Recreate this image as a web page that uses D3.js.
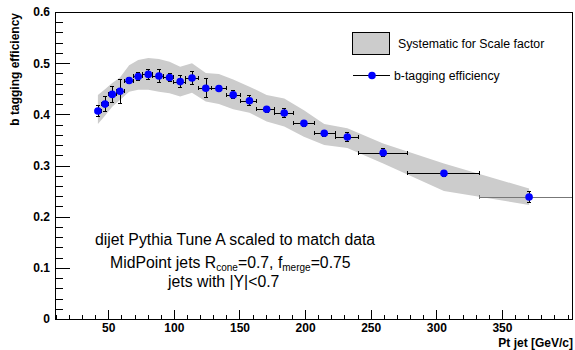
<!DOCTYPE html>
<html>
<head>
<meta charset="utf-8">
<style>
  body { margin: 0; background: #fff; }
  svg { display: block; font-family: "Liberation Sans", Arial, sans-serif; }
  .axis .domain { display: none; }
  .axis line { stroke: #000; shape-rendering: crispEdges; }
  .axis text { font-weight: bold; font-size: 12px; fill: #000; font-family: "Liberation Sans", Arial, sans-serif; }
</style>
</head>
<body>
<svg width="575" height="350"></svg>
<script src="https://cdn.jsdelivr.net/npm/d3@7"></script>
<script>
// jet pt bins (GeV/c): center and bin edges
var ptCenter = [42.1, 47.5, 53.0, 58.9, 65.9, 72.8, 80.5, 88.6, 96.7, 104.8, 113.8, 124.3,
                134.3, 145.2, 157.6, 170.7, 184.1, 199.1, 214.6, 232.2, 259.5, 305.8, 370.7];
var ptLow    = [40, 45, 50, 56, 62, 69, 76, 84, 92, 100, 109, 119,
                129, 140, 151, 163, 177, 191, 207, 223, 241, 278, 333];
var ptHigh   = [45, 50, 56, 62, 69, 76, 84, 92, 100, 109, 119, 129,
                140, 151, 163, 177, 191, 207, 223, 241, 278, 333, 410];

// b-tagging efficiency and stat error
var effVal = [0.4065, 0.420, 0.439, 0.445, 0.466, 0.474, 0.478, 0.475, 0.472, 0.464, 0.471, 0.451,
              0.4505, 0.438, 0.4266, 0.410, 0.4026, 0.3824, 0.363, 0.3557, 0.325, 0.2847, 0.2384];
var effErr = [0.010, 0.015, 0.016, 0.023, 0.006, 0.008, 0.010, 0.012, 0.008, 0.011, 0.012, 0.019,
              0.006, 0.008, 0.010, 0.006, 0.008, 0.006, 0.006, 0.008, 0.008, 0.006, 0.010];

// systematic band (scale factor)
var sysUp  = [0.438, 0.449, 0.461, 0.472, 0.496, 0.506, 0.510, 0.508, 0.503, 0.493, 0.500, 0.481,
              0.479, 0.468, 0.454, 0.438, 0.431, 0.408, 0.381, 0.373, 0.343, 0.304, 0.255];
var sysLow = [0.381, 0.397, 0.415, 0.428, 0.444, 0.448, 0.448, 0.444, 0.441, 0.435, 0.442, 0.425,
              0.420, 0.410, 0.403, 0.386, 0.376, 0.356, 0.340, 0.334, 0.304, 0.250, 0.223];

var xTickValues = [50, 100, 150, 200, 250, 300, 350];
var yTickValues = [0, 0.1, 0.2, 0.3, 0.4, 0.5, 0.6];

var svg = d3.select("svg"),
    frame = {left: 55, right: 572, top: 12, bottom: 319};

var x = d3.scaleLinear().domain([9.4, 403.4]).range([frame.left, frame.right]);
var y = d3.scaleLinear().domain([0, 0.6]).range([frame.bottom, frame.top]);

var points = ptCenter.map(function(p, i) {
  return {pt: p, lo: ptLow[i], hi: ptHigh[i], eff: effVal[i], err: effErr[i], up: sysUp[i], dn: sysLow[i], last: i == ptCenter.length - 1};
});

svg.append("defs").append("clipPath").attr("id", "clip")
  .append("rect")
    .attr("x", frame.left).attr("y", frame.top)
    .attr("width", frame.right - frame.left).attr("height", frame.bottom - frame.top);

var plot = svg.append("g").attr("clip-path", "url(#clip)");

// systematic band
var band = d3.area()
    .x(function(d) { return x(d.pt); })
    .y0(function(d) { return y(d.dn); })
    .y1(function(d) { return y(d.up); });

plot.append("path")
    .datum(points)
    .attr("d", band)
    .attr("fill", "#cccccc");

// error bars
var bars = plot.append("g")
    .attr("stroke-width", 1)
    .attr("shape-rendering", "crispEdges")
  .selectAll("g")
  .data(points)
  .enter().append("g")
    .attr("stroke", function(d) { return d.last ? "#777" : "#000"; });

bars.append("line")
    .attr("x1", function(d) { return x(d.lo); })
    .attr("x2", function(d) { return x(d.hi); })
    .attr("y1", function(d) { return Math.round(y(d.eff)) + 0.5; })
    .attr("y2", function(d) { return Math.round(y(d.eff)) + 0.5; });
bars.append("line")
    .attr("x1", function(d) { return x(d.lo); })
    .attr("x2", function(d) { return x(d.lo); })
    .attr("y1", function(d) { return y(d.eff) - 2; })
    .attr("y2", function(d) { return y(d.eff) + 2; });
bars.append("line")
    .attr("x1", function(d) { return x(d.hi); })
    .attr("x2", function(d) { return x(d.hi); })
    .attr("y1", function(d) { return y(d.eff) - 2; })
    .attr("y2", function(d) { return y(d.eff) + 2; });

bars.append("line")
    .attr("x1", function(d) { return Math.round(x(d.pt)) + 0.5; })
    .attr("x2", function(d) { return Math.round(x(d.pt)) + 0.5; })
    .attr("y1", function(d) { return y(d.eff - d.err); })
    .attr("y2", function(d) { return y(d.eff + d.err); })
    .attr("stroke", "#000");
bars.append("line")
    .attr("x1", function(d) { return x(d.pt) - 2; })
    .attr("x2", function(d) { return x(d.pt) + 2; })
    .attr("y1", function(d) { return y(d.eff - d.err); })
    .attr("y2", function(d) { return y(d.eff - d.err); })
    .attr("stroke", "#000");
bars.append("line")
    .attr("x1", function(d) { return x(d.pt) - 2; })
    .attr("x2", function(d) { return x(d.pt) + 2; })
    .attr("y1", function(d) { return y(d.eff + d.err); })
    .attr("y2", function(d) { return y(d.eff + d.err); })
    .attr("stroke", "#000");

// markers
plot.append("g")
  .selectAll("circle")
  .data(points)
  .enter().append("circle")
    .attr("cx", function(d) { return x(d.pt); })
    .attr("cy", function(d) { return y(d.eff); })
    .attr("r", 3.8)
    .attr("fill", "#0000ff");

// axes, ticks pointing inside the frame
var fmtY = function(d) { return d === 0 ? "0" : d3.format(".1f")(d); };

svg.append("g")
    .attr("class", "axis")
    .attr("transform", "translate(" + frame.left + ",0)")
    .call(d3.axisLeft(y).tickValues(d3.range(0, 0.601, 0.02)).tickSize(-8).tickFormat(""));
svg.append("g")
    .attr("class", "axis")
    .attr("transform", "translate(" + frame.left + ",0)")
    .call(d3.axisLeft(y).tickValues(yTickValues).tickSize(-15).tickPadding(5).tickFormat(fmtY));

svg.append("g")
    .attr("class", "axis")
    .attr("transform", "translate(0," + frame.bottom + ")")
    .call(d3.axisBottom(x).tickValues(d3.range(10, 401, 10)).tickSize(-4.5).tickFormat(""));
svg.append("g")
    .attr("class", "axis")
    .attr("transform", "translate(0," + frame.bottom + ")")
    .call(d3.axisBottom(x).tickValues(xTickValues).tickSize(-9).tickPadding(4));

// frame
svg.append("rect")
    .attr("x", frame.left + 0.5).attr("y", frame.top + 0.5)
    .attr("width", frame.right - frame.left).attr("height", frame.bottom - frame.top)
    .attr("fill", "none")
    .attr("stroke", "#000")
    .attr("shape-rendering", "crispEdges");

// axis titles
svg.append("text")
    .attr("transform", "translate(19," + (frame.top + 1) + ") rotate(-90)")
    .attr("text-anchor", "end")
    .attr("font-weight", "bold")
    .attr("font-size", 12)
    .text("b tagging efficiency");

svg.append("text")
    .attr("x", 573)
    .attr("y", 347)
    .attr("text-anchor", "end")
    .attr("font-weight", "bold")
    .attr("font-size", 12)
    .text("Pt jet [GeV/c]");

// legend
var legend = svg.append("g").attr("font-size", 12.3);
legend.append("rect")
    .attr("x", 352.5).attr("y", 32.5).attr("width", 37).attr("height", 22)
    .attr("fill", "#cccccc").attr("stroke", "#000")
    .attr("shape-rendering", "crispEdges");
legend.append("text")
    .attr("x", 398).attr("y", 48)
    .text("Systematic for Scale factor");
legend.append("line")
    .attr("x1", 353).attr("x2", 390).attr("y1", 75.5).attr("y2", 75.5)
    .attr("stroke", "#000");
legend.append("circle")
    .attr("cx", 372).attr("cy", 75.5).attr("r", 3.8).attr("fill", "#0000ff");
legend.append("text")
    .attr("x", 394).attr("y", 79.5)
    .text("b-tagging efficiency");

// annotations
var notes = svg.append("g").attr("font-size", 15.8);
notes.append("text").attr("x", 95).attr("y", 245)
    .text("dijet Pythia Tune A scaled to match data");
var l2 = notes.append("text").attr("x", 110).attr("y", 268);
l2.append("tspan").text("MidPoint jets R");
l2.append("tspan").attr("font-size", 10).attr("dy", 3).text("cone");
l2.append("tspan").attr("dy", -3).text("=0.7, f");
l2.append("tspan").attr("font-size", 10).attr("dy", 3).text("merge");
l2.append("tspan").attr("dy", -3).text("=0.75");
notes.append("text").attr("x", 168).attr("y", 287)
    .text("jets with |Y|<0.7");
</script>
</body>
</html>
